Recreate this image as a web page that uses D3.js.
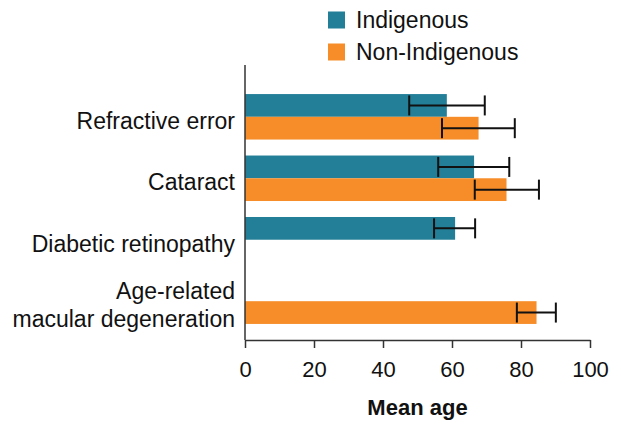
<!DOCTYPE html>
<html>
<head>
<meta charset="utf-8">
<script src="https://cdn.jsdelivr.net/npm/d3@7"></script>
<style>
  html, body { margin: 0; padding: 0; background: #fff; }
  svg { display: block; font-family: "Liberation Sans", Arial, sans-serif; }
</style>
</head>
<body>
<svg id="chart" width="621" height="424"></svg>
<script>
const categories = ["Refractive error", "Cataract", "Diabetic retinopathy", "Age-related macular degeneration"];
const categoryLines = [["Refractive error"], ["Cataract"], ["Diabetic retinopathy"], ["Age-related", "macular degeneration"]];
const series = ["Indigenous", "Non-Indigenous"];
const indigenousMean = [58.5, 66.4, 60.9, null];
const indigenousLow = [47.6, 56.0, 54.8, null];
const indigenousHigh = [69.5, 76.6, 66.7, null];
const nonIndigenousMean = [67.7, 75.8, null, 84.5];
const nonIndigenousLow = [57.1, 66.6, null, 78.8];
const nonIndigenousHigh = [78.2, 85.2, null, 90.1];
const xTicks = [0, 20, 40, 60, 80, 100];
const colors = ["#237f98", "#f68d28"];

const svg = d3.select("#chart");
const FS = 23;
const FT = 22;

const x = d3.scaleLinear().domain([0, 100]).range([245, 590]);
const y = d3.scaleBand().domain(categories).range([83, 335]).paddingInner(0.26).paddingOuter(0.18);
const ySub = d3.scaleBand().domain(series).range([0, y.bandwidth()]);

const rows = [];
categories.forEach((c, i) => {
  rows.push({cat: c, s: series[0], v: indigenousMean[i], lo: indigenousLow[i], hi: indigenousHigh[i], col: colors[0]});
  rows.push({cat: c, s: series[1], v: nonIndigenousMean[i], lo: nonIndigenousLow[i], hi: nonIndigenousHigh[i], col: colors[1]});
});
const valid = rows.filter(d => d.v != null);

svg.append("g").selectAll("rect").data(valid).join("rect")
  .attr("x", x(0))
  .attr("y", d => y(d.cat) + ySub(d.s))
  .attr("width", d => x(d.v) - x(0))
  .attr("height", ySub.bandwidth())
  .attr("fill", d => d.col);

const eb = svg.append("g").attr("stroke", "#111").attr("stroke-width", 2).attr("fill", "none");
valid.forEach(d => {
  const cy = y(d.cat) + ySub(d.s) + ySub.bandwidth() / 2;
  const h = 10;
  eb.append("line").attr("x1", x(d.lo)).attr("x2", x(d.hi)).attr("y1", cy).attr("y2", cy);
  eb.append("line").attr("x1", x(d.lo)).attr("x2", x(d.lo)).attr("y1", cy - h).attr("y2", cy + h);
  eb.append("line").attr("x1", x(d.hi)).attr("x2", x(d.hi)).attr("y1", cy - h).attr("y2", cy + h);
});

// x axis
const xAxis = svg.append("g").attr("transform", "translate(0,340)")
  .call(d3.axisBottom(x).tickValues(xTicks).tickSize(8).tickPadding(13).tickSizeOuter(0));
xAxis.select(".domain").attr("stroke", "#333").attr("stroke-width", 1.5);
xAxis.selectAll(".tick line").attr("stroke", "#333").attr("stroke-width", 1.5);
xAxis.selectAll(".tick text").attr("font-size", FT).attr("fill", "#111").attr("font-family", "Liberation Sans, Arial, sans-serif");

// y axis line
svg.append("line").attr("x1", 245).attr("x2", 245).attr("y1", 65).attr("y2", 340)
  .attr("stroke", "#333").attr("stroke-width", 1.5);

// y labels
categories.forEach((c, i) => {
  const lines = categoryLines[i];
  const cy = y(c) + y.bandwidth() / 2 + 4;
  const lh = 28;
  const t = svg.append("text").attr("text-anchor", "end").attr("font-size", FS).attr("fill", "#111");
  lines.forEach((ln, j) => {
    t.append("tspan").attr("x", 235)
      .attr("y", cy + (j - (lines.length - 1) / 2) * lh)
      .attr("dy", "0.35em").text(ln);
  });
});

// x title
svg.append("text").attr("x", x(50)).attr("y", 415).attr("text-anchor", "middle")
  .attr("font-size", FT).attr("font-weight", "bold").attr("fill", "#111").text("Mean age");

// legend
series.forEach((s, i) => {
  const ly = 20 + i * 32;
  svg.append("rect").attr("x", 328).attr("y", ly - 8.5).attr("width", 17).attr("height", 17).attr("fill", colors[i]);
  svg.append("text").attr("x", 356).attr("y", ly).attr("dy", "0.35em").attr("font-size", FS).attr("fill", "#111").text(s);
});
</script>
</body>
</html>
